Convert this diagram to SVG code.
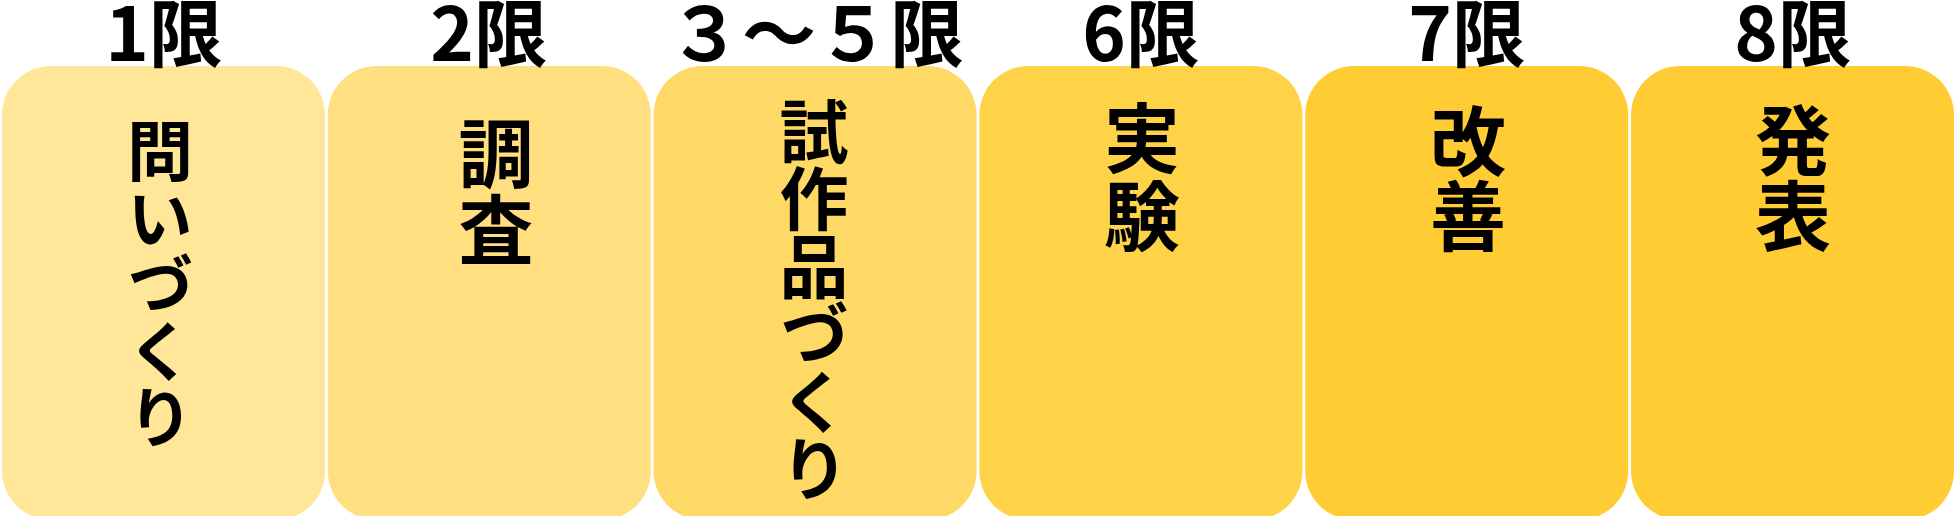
<svg xmlns="http://www.w3.org/2000/svg" width="1956" height="516" viewBox="0 0 1956 516">
<style>
  .box { stroke: none; }
  .hdr { font-family: "Noto Sans CJK JP", "Noto Sans", sans-serif; font-weight: 700; font-size: 74px; fill: #000; text-anchor: middle; }
  .lbl { font-family: "Noto Sans CJK JP", "Noto Sans", sans-serif; font-weight: 700; fill: #000; text-anchor: start; writing-mode: vertical-rl; }
</style>
<rect x="0" y="0" width="1956" height="516" fill="#FFFFFF"/>
<g id="connectors"></g>
<g id="node1">
  <rect class="box" x="2" y="66" width="323" height="454" rx="49" ry="49" fill="#FFE699"/>
  <text class="hdr" x="164" y="61">1限</text>
  <text class="lbl" x="160" y="118" font-size="66" letter-spacing="0.5">問いづくり</text>
</g>
<g id="node2">
  <rect class="box" x="327.8" y="66" width="323" height="454" rx="49" ry="49" fill="#FFDF80"/>
  <text class="hdr" x="489" y="61">2限</text>
  <text class="lbl" x="496" y="116" font-size="75" letter-spacing="1">調査</text>
</g>
<g id="node3">
  <rect class="box" x="653.6" y="66" width="323" height="454" rx="49" ry="49" fill="#FFD966"/>
  <text class="hdr" x="816" y="61">３～５限</text>
  <text class="lbl" x="814" y="97.3" font-size="69" letter-spacing="-1.6">試作品づくり</text>
</g>
<g id="node4">
  <rect class="box" x="979.4" y="66" width="323" height="454" rx="49" ry="49" fill="#FFD348"/>
  <text class="hdr" x="1141" y="61">6限</text>
  <text class="lbl" x="1142" y="100.6" font-size="76" letter-spacing="2">実験</text>
</g>
<g id="node5">
  <rect class="box" x="1305.2" y="66" width="323" height="454" rx="49" ry="49" fill="#FFCD33"/>
  <text class="hdr" x="1467" y="61">7限</text>
  <text class="lbl" x="1468" y="103.6" font-size="76" letter-spacing="-1.5">改善</text>
</g>
<g id="node6">
  <rect class="box" x="1631" y="66" width="323" height="454" rx="49" ry="49" fill="#FFCD33"/>
  <text class="hdr" x="1793" y="61">8限</text>
  <text class="lbl" x="1793" y="102.6" font-size="76" letter-spacing="-0.5">発表</text>
</g>
</svg>
